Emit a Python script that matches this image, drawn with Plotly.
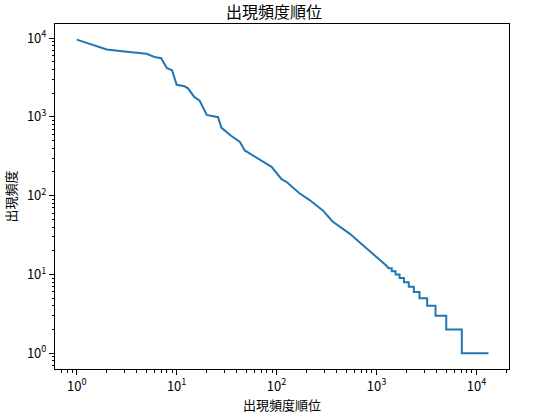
import plotly.graph_objects as go

# ---------------------------------------------------------
#  データ
# ---------------------------------------------------------

# 上位の単語: 順位と出現頻度
head_rank = [1, 2, 3, 4, 5, 6, 7, 8, 9, 10, 12, 13, 15, 17, 18, 20, 26, 28,
             35, 43, 48, 68, 89, 112, 127, 168, 214, 290, 363, 537, 851, 1250]
head_freq = [9550, 7150, 6750, 6500, 6300, 5750, 5550, 4150, 3900, 2550, 2440,
             2300, 1790, 1600, 1400, 1060, 990, 730, 575, 480, 375, 290, 232,
             162, 148, 108, 88, 65, 47, 33, 20, 13]

# 低頻度の裾: 各頻度が始まる順位（階段状）
tail_freq = [12, 11, 10, 9, 8, 7, 6, 5, 4, 3, 2, 1]
tail_first_rank = [1320, 1420, 1550, 1700, 1880, 2100, 2360, 2690, 3210,
                   3890, 4980, 7130]
last_rank = 13180

x_tickvals = [1, 10, 100, 1000, 10000]
x_ticktext = ["10<sup>0</sup>", "10<sup>1</sup>", "10<sup>2</sup>",
              "10<sup>3</sup>", "10<sup>4</sup>"]
y_tickvals = [1, 10, 100, 1000, 10000]
y_ticktext = x_ticktext

TITLE = "出現頻度順位"
XLABEL = "出現頻度順位"
YLABEL = "出現頻度"

COLOR_LINE = "#1f77b4"
FONT = "Noto Sans CJK JP"

# ---------------------------------------------------------
#  系列の組み立て
# ---------------------------------------------------------

ranks = list(head_rank)
freqs = list(head_freq)
ends = tail_first_rank[1:] + [last_rank + 1]
for f, s, e in zip(tail_freq, tail_first_rank, ends):
    ranks += [s, e - 1]
    freqs += [f, f]

minor_vals = [k * 10 ** d for d in range(-1, 5) for k in range(2, 10)]

fig = go.Figure(go.Scatter(
    x=ranks,
    y=freqs,
    mode="lines",
    line=dict(color=COLOR_LINE, width=2),
    showlegend=False,
    hoverinfo="x+y",
))

axis_common = dict(
    type="log",
    automargin=False,
    showgrid=False,
    zeroline=False,
    showline=True,
    linecolor="black",
    linewidth=1,
    mirror=True,
    ticks="outside",
    ticklen=5,
    tickwidth=1,
    tickcolor="black",
    tickmode="array",
    tickfont=dict(family=FONT, size=13, color="black"),
    minor=dict(ticks="outside", ticklen=2.5, tickwidth=0.8, tickcolor="black",
               tickmode="array", tickvals=minor_vals, showgrid=False),
)

fig.update_layout(
    width=548,
    height=417,
    margin=dict(l=55, r=39, t=24, b=48, autoexpand=False),
    paper_bgcolor="white",
    plot_bgcolor="white",
    font=dict(family=FONT, size=13, color="black"),
    title=dict(text=TITLE, x=0.5, xanchor="center", y=1 - 12 / 417,
               yanchor="middle", automargin=False,
               font=dict(family=FONT, size=16, color="black")),
    xaxis=dict(axis_common, range=[-0.217, 4.325], tickvals=x_tickvals,
               ticktext=x_ticktext,
               title=dict(text=XLABEL, standoff=2,
                          font=dict(family=FONT, size=13, color="black"))),
    yaxis=dict(axis_common, range=[-0.199, 4.178], tickvals=y_tickvals,
               ticktext=y_ticktext,
               title=dict(text=YLABEL, standoff=7,
                          font=dict(family=FONT, size=13, color="black"))),
)

# ページ余白を消して 548x417 にぴったり合わせる
fig.write_html("out.html", config={"displayModeBar": False},
               post_script="document.body.style.margin='0';")
